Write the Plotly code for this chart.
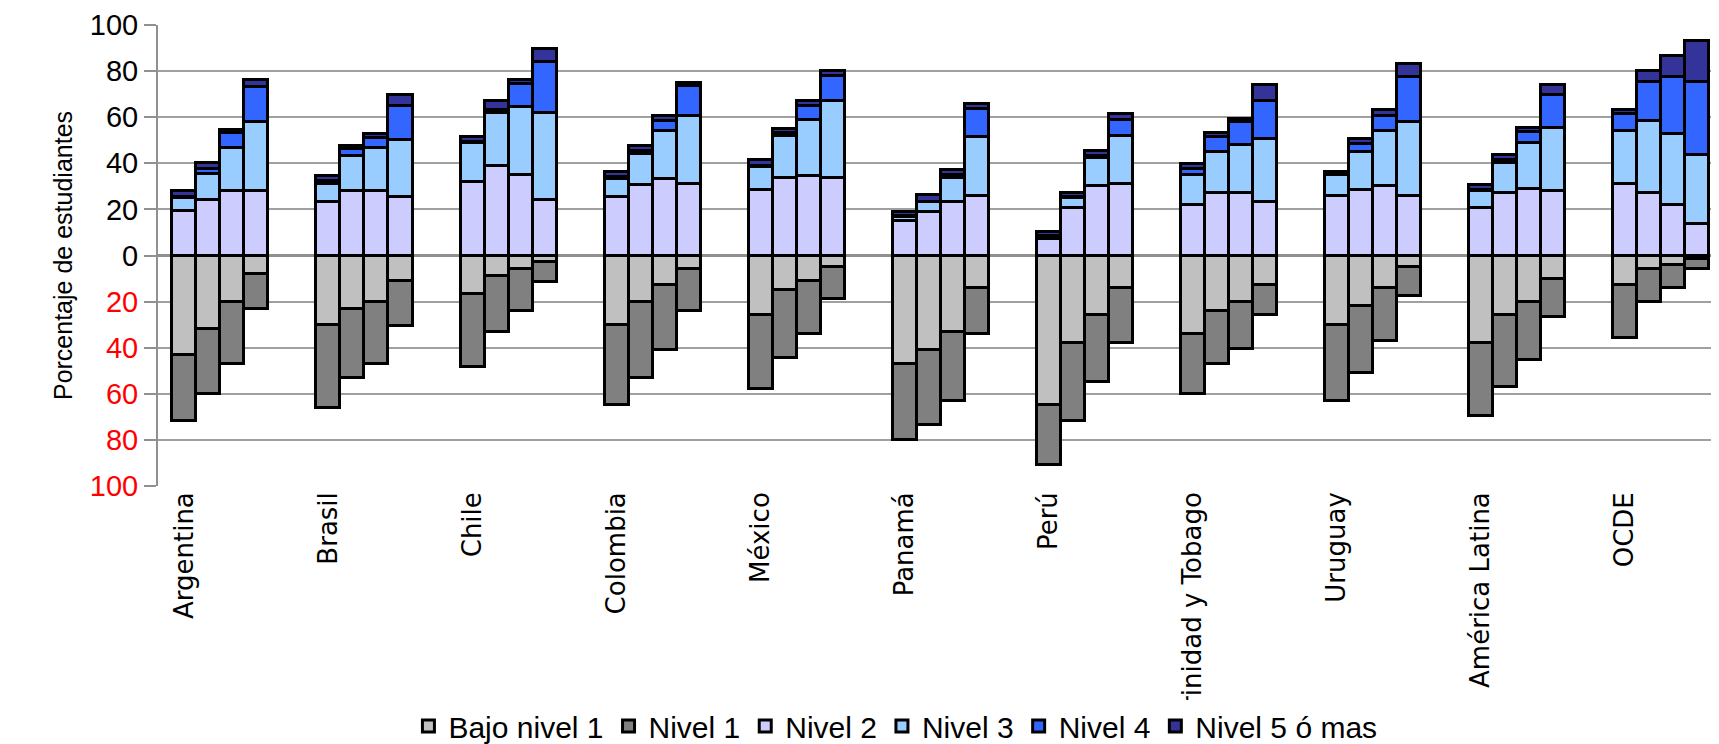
import plotly.graph_objects as go

countries = ["Argentina", "Brasil", "Chile", "Colombia", "México", "Panamá", "Perú",
             "Trinidad y Tobago", "Uruguay", "América Latina", "OCDE"]

# 4 bars per country
bajo = [[43, 32, 20, 8], [30, 23, 20, 11], [16.6, 9, 6, 3], [30, 20, 13, 6], [26, 15, 11, 5],
        [47, 41, 33, 14], [65, 38, 26, 14], [34, 24, 20, 13], [30, 22, 14, 5], [38, 26, 20, 10],
        [13, 6, 4, 1.5]]
nivel1 = [[29, 28, 27, 15], [36, 30, 27, 19.5], [31.6, 24, 18, 8.5], [35, 33, 28, 18], [32, 29.5, 23, 14],
          [33, 32.5, 30, 20], [26, 34, 29, 24], [26, 23, 20.5, 13], [33, 29, 23, 12.5], [31.6, 31, 25.5, 16.6],
          [23, 14, 10, 4.5]]
nivel2 = [[19.4, 24, 28, 28], [23, 28, 28, 25.4], [32, 38.7, 35, 24], [25.5, 30.5, 33, 31], [28.4, 33.5, 34.5, 33.5],
          [15, 19, 23, 25.7], [7, 20.4, 30, 31], [21.7, 27, 27, 23], [25.7, 28.4, 30, 25.7], [20.4, 27, 29, 28],
          [30.9, 27.2, 21.8, 13.8]]
nivel3 = [[5.6, 11.5, 18.5, 30], [8, 15, 18.5, 24.6], [17, 23.3, 29.5, 38], [7.5, 13.5, 21, 29.7], [10.1, 18.2, 24.5, 33.5],
          [1.7, 4, 10.5, 25.8], [0.8, 4.6, 12.5, 20.7], [13.1, 18, 21, 27.5], [9.3, 16.6, 24, 32.3], [7.6, 13, 20, 27.3],
          [23.1, 31, 30.9, 29.9]]
nivel4 = [[0.5, 2.2, 6.5, 15], [1.5, 3, 4.5, 15], [0.3, 1.3, 10.1, 22], [1, 1.5, 4.5, 12.8], [0.5, 1.3, 6, 11],
          [0.3, 0.3, 1.5, 12], [0.5, 0.5, 0.5, 7.3], [2.9, 6.6, 9.8, 16.7], [0.3, 3.5, 6.7, 19.6], [0.5, 1.6, 4.6, 14.2],
          [7.4, 17.1, 24.9, 31.6]]
nivel5 = [[2.4, 2.3, 1.5, 3], [2, 1.5, 1.6, 4.6], [2.2, 3.7, 1.4, 5.5], [2.4, 2, 2.2, 1.5], [2.5, 2, 2, 2],
          [2, 3.1, 2, 2.2], [1.7, 1.5, 2.5, 2.6], [1.9, 1.4, 1.4, 6.6], [1.1, 2, 2.6, 5.4], [2, 1.9, 1.8, 4.3],
          [1.9, 4.7, 9, 17.7]]

series = [
    ("Bajo nivel 1", bajo, "#C0C0C0", -1),
    ("Nivel 1", nivel1, "#808080", -1),
    ("Nivel 2", nivel2, "#CCCCFF", 1),
    ("Nivel 3", nivel3, "#99CCFF", 1),
    ("Nivel 4", nivel4, "#3366FF", 1),
    ("Nivel 5 ó mas", nivel5, "#333399", 1),
]

slots = 6
xs = [i * slots + j for i in range(len(countries)) for j in range(4)]

fig = go.Figure()
for name, vals, color, sign in series:
    ys = [sign * v for row in vals for v in row]
    fig.add_trace(go.Bar(x=xs, y=ys, name=name, width=1,
                         marker=dict(color=color, line=dict(color="black", width=3))))

yt = [100, 80, 60, 40, 20, 0, -20, -40, -60, -80, -100]
ytext = [str(abs(v)) if v >= 0 else '<span style="color:#FF0000">%d</span>' % abs(v) for v in yt]

fig.update_layout(
    width=1719, height=744,
    barmode="relative", bargap=0,
    plot_bgcolor="white", paper_bgcolor="white",
    margin=dict(l=150, r=0, t=17, b=266),
    font=dict(family="Liberation Sans Narrow, Liberation Sans, sans-serif", color="black"),
    legend=dict(orientation="h", x=0.47, xanchor="center", y=0.0, yanchor="bottom", yref="container",
                font=dict(size=30, family="Liberation Sans Narrow, Liberation Sans", color="black"),
                traceorder="normal", itemwidth=30),
    xaxis=dict(range=[-1.1, 64.25], tickmode="array", automargin=False,
               tickvals=[i * slots for i in range(len(countries))], ticktext=countries,
               tickangle=-90, showgrid=False, zeroline=False, showline=False, ticks="",
               tickfont=dict(family="DejaVu Sans", size=26, color="black")),
    yaxis=dict(range=[-100, 100], tickmode="array", tickvals=yt, ticktext=ytext, automargin=False,
               showgrid=True, gridcolor="#A0A0A0", gridwidth=2,
               zeroline=True, zerolinecolor="#909090", zerolinewidth=3,
               showline=True, linecolor="#909090", linewidth=2,
               ticks="outside", ticklen=12, tickcolor="#909090", tickwidth=2,
               tickfont=dict(size=29, family="Liberation Sans, sans-serif", color="black"),
               title=dict(text="Porcentaje de estudiantes",
                          font=dict(size=25, family="Liberation Sans", color="black"),
                          standoff=10)),
)
fig.write_html("out.html")
